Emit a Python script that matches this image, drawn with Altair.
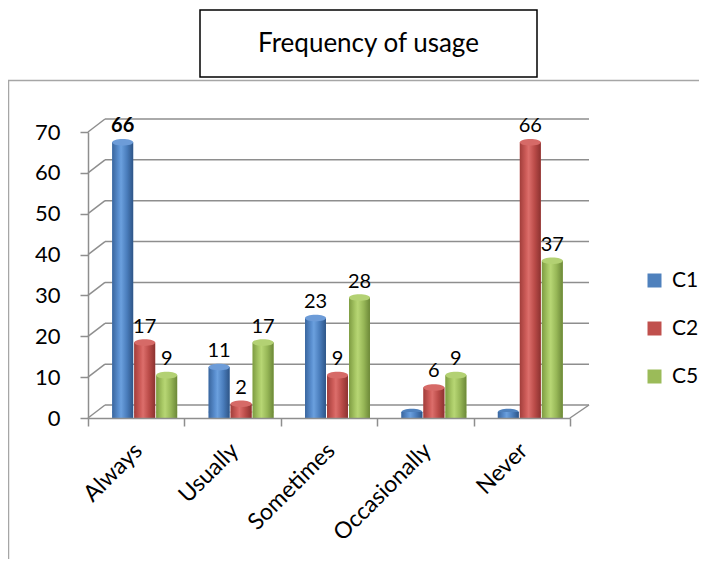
import altair as alt
import pandas as pd

# ---------------- data ----------------
categories = ["Always", "Usually", "Sometimes", "Occasionally", "Never"]
series = ["C1", "C2", "C5"]
c1_values = [66, 11, 23, 0, 0]
c2_values = [17, 2, 9, 6, 66]
c5_values = [9, 17, 28, 9, 37]
y_ticks = [0, 10, 20, 30, 40, 50, 60, 70]
title_text = "Frequency of usage"
bold_labels = [("Always", "C1")]

# ---------------- style ----------------
FONT = "Lato"
W, H = 482, 286
DX, DY = 17, -13          # depth of the back wall
BAR_DY = -6               # bars sit half way into the depth
GRID = "#8E8E8E"
base_colors = {"C1": "#4F81BD", "C2": "#C0504D", "C5": "#9BBB59"}
cap_colors = {"C1": "#6D9CD8", "C2": "#D66A67", "C5": "#B3D173"}
shade = {
    "C1": ["#3A669E", "#5A8FD0", "#6BA0DE", "#4A7DBC", "#2E5587"],
    "C2": ["#A23E3B", "#CF5D5A", "#DC6E6B", "#BB4C49", "#8C3230"],
    "C5": ["#7E9C42", "#A9C966", "#B7D674", "#97B757", "#6C8838"],
}
stop_offsets = [0, 0.3, 0.42, 0.7, 1]
k = 0.5523 * 0.32
ELLIPSE = (f"M-1,0C-1,{-k:.4f},-0.5523,-0.32,0,-0.32C0.5523,-0.32,1,{-k:.4f},1,0"
           f"C1,{k:.4f},0.5523,0.32,0,0.32C-0.5523,0.32,-1,{k:.4f},-1,0Z")
CAP_SIZE = 441

values_by_series = {"C1": c1_values, "C2": c2_values, "C5": c5_values}
rows = []
for s in series:
    for c, v in zip(categories, values_by_series[s]):
        rows.append({"category": c, "series": s, "value": v,
                     "base": base_colors[s], "cap": cap_colors[s],
                     "bold": (c, s) in bold_labels})
df = pd.DataFrame(rows)
grid_df = pd.DataFrame({"value": y_ticks})
zero_df = pd.DataFrame({"value": [0]})
one_df = pd.DataFrame({"t": [title_text]})

# ---------------- shared encodings ----------------
yaxis = alt.Axis(values=y_ticks, title=None, grid=False, domainColor=GRID, domainWidth=1.5,
                 tickColor=GRID, tickWidth=1.5, tickSize=8, labelFont=FONT, labelFontSize=22,
                 labelColor="black", labelPadding=20, zindex=1)
xaxis = alt.Axis(title=None, grid=False, labelAngle=-45, labelAlign="right", labelBaseline="top",
                 labelOffset=-6, labelPadding=13, tickBand="extent", tickSize=8, tickColor=GRID,
                 tickWidth=1.5, domainColor=GRID, domainWidth=1.5, labelFont=FONT,
                 labelFontSize=23, labelColor="black", zindex=1)
yscale = alt.Scale(domain=[0, 70], nice=False, zero=True)
xscale = alt.Scale(domain=categories, paddingInner=0, paddingOuter=0)
xoscale = alt.Scale(domain=series, paddingInner=0.05, paddingOuter=0.716, align=0.77)

Y = alt.Y("value:Q", scale=yscale, axis=yaxis, stack=None)
X = alt.X("category:N", sort=categories, scale=xscale, axis=xaxis)
XO = alt.XOffset("series:N", sort=series, scale=xoscale)

# ---------------- layers ----------------
border = alt.Chart(one_df).mark_rect(fillOpacity=0, stroke="#A6A6A6", strokeWidth=1.5).encode(
    x=alt.value(-79.5), x2=alt.value(W + 400), y=alt.value(-51.5), y2=alt.value(H + 400))

back_grid = alt.Chart(grid_df).mark_rule(color=GRID, strokeWidth=1.5, yOffset=DY).encode(
    y=Y, x=alt.value(DX), x2=alt.value(W + DX + 2))

left_slant = alt.Chart(grid_df).mark_rule(color=GRID, strokeWidth=1.5, y2Offset=DY).encode(
    y=Y, y2=alt.Y2("value"), x=alt.value(0), x2=alt.value(DX))

floor_right = alt.Chart(zero_df).mark_rule(color=GRID, strokeWidth=1.5, y2Offset=DY).encode(
    y=Y, y2=alt.Y2("value"), x=alt.value(W), x2=alt.value(W + DX + 2))

bottoms = alt.Chart(df).mark_point(shape=ELLIPSE, size=CAP_SIZE, filled=True, opacity=1,
                                   strokeWidth=0, yOffset=BAR_DY).encode(
    x=X, xOffset=XO, y=alt.Y(datum=0, scale=yscale), fill=alt.Fill("base:N", scale=None))

bars = alt.Chart(df).mark_bar(yOffset=BAR_DY, y2Offset=BAR_DY).encode(
    x=X, xOffset=XO, y=Y,
    color=alt.Color("series:N", sort=series,
                    scale=alt.Scale(domain=series, range=[base_colors[s] for s in series]),
                    legend=alt.Legend(title=None, orient="none", legendX=556, legendY=138,
                                      symbolType="square", symbolSize=196, symbolStrokeWidth=0,
                                      labelFont=FONT, labelFontSize=21, labelColor="black",
                                      rowPadding=26, labelOffset=7, padding=0)))

shaded = []
for s in series:
    grad = alt.Gradient(gradient="linear", x1=0, x2=1, y1=0, y2=0,
                        stops=[alt.GradientStop(offset=o, color=c)
                               for o, c in zip(stop_offsets, shade[s])])
    shaded.append(
        alt.Chart(df).transform_filter(alt.datum.series == s)
        .mark_bar(color=grad, yOffset=BAR_DY, y2Offset=BAR_DY)
        .encode(x=X, xOffset=XO, y=Y))

caps = alt.Chart(df).transform_filter(alt.datum.value > 0).mark_point(
    shape=ELLIPSE, size=CAP_SIZE, filled=True, opacity=1, strokeWidth=0, yOffset=BAR_DY).encode(
    x=X, xOffset=XO, y=Y, fill=alt.Fill("cap:N", scale=None))

labels = alt.Chart(df).transform_filter("datum.value > 0 && !datum.bold").mark_text(
    font=FONT, fontSize=20, baseline="alphabetic", dy=-16, color="black").encode(
    x=X, xOffset=XO, y=Y, text=alt.Text("value:Q"))

labels_bold = alt.Chart(df).transform_filter("datum.value > 0 && datum.bold").mark_text(
    font=FONT, fontSize=20, fontWeight="bold", baseline="alphabetic", dy=-16, color="black").encode(
    x=X, xOffset=XO, y=Y, text=alt.Text("value:Q"))

title_box = alt.Chart(one_df).mark_rect(fill="white", stroke="black", strokeWidth=1.5).encode(
    x=alt.value(112), x2=alt.value(449), y=alt.value(-122), y2=alt.value(-55))

title = alt.Chart(one_df).mark_text(font=FONT, fontSize=26, color="black", align="center",
                                    baseline="middle").encode(
    x=alt.value(280.5), y=alt.value(-88.5), text="t:N")

chart = alt.layer(
    border, back_grid, left_slant, floor_right, bottoms, bars, *shaded, caps,
    labels, labels_bold, title_box, title
).properties(
    width=W, height=H,
    autosize=alt.AutoSizeParams(type="none"),
    padding={"left": 80, "top": 124, "right": 129, "bottom": 141},
    background="white",
).configure_view(stroke=None)

chart.save("out.html", embed_options={"renderer": "svg", "actions": False})
